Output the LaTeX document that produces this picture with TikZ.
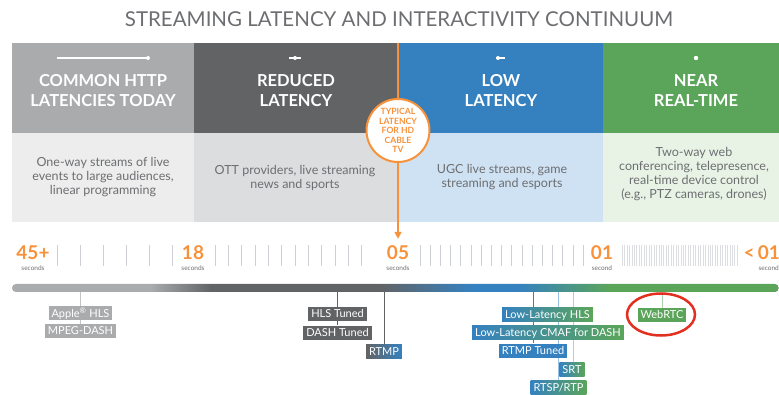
\documentclass[tikz,border=0pt]{standalone}
\usepackage{fontspec}
\setmainfont{Lato}
\usetikzlibrary{arrows.meta,shapes.geometric,backgrounds}
\definecolor{cgray}{HTML}{AAABAD}
\definecolor{cdark}{HTML}{626365}
\definecolor{cblue}{HTML}{3581C0}
\definecolor{cgreen}{HTML}{5BA55A}
\definecolor{corange}{HTML}{F7923A}
\definecolor{ctext}{HTML}{6D6E71}
\definecolor{cpalegray}{HTML}{EDEDED}
\definecolor{cpaledark}{HTML}{DCDDDE}
\definecolor{cpaleblue}{HTML}{CFE2F3}
\definecolor{cpalegreen}{HTML}{E8F3E6}
\definecolor{ctick}{HTML}{CDD0D4}
\definecolor{cred}{HTML}{E2301F}
\pgfdeclarehorizontalshading{barshade}{100bp}{color(0bp)=(cgray); color(34bp)=(cgray); color(38bp)=(cdark); color(49bp)=(cdark); color(55bp)=(cblue); color(58bp)=(cblue); color(64bp)=(cgreen); color(100bp)=(cgreen)}
\tikzset{
  head/.style={text=white, align=center, inner sep=0pt, font=\fontsize{16.5}{20}\selectfont\bfseries},
  blurb/.style={text=ctext, align=center, inner sep=0pt, font=\fontsize{12.5}{14.2}\selectfont},
  num/.style={text=corange, inner sep=0pt, font=\fontsize{19}{20}\selectfont\bfseries},
  secs/.style={text=ctext, inner sep=0pt, font=\fontsize{6.5}{7}\selectfont},
  tag/.style={text=white, inner xsep=3pt, inner ysep=0pt, minimum height=14pt, text height=7.8pt, text depth=0.4pt, font=\fontsize{11}{12}\selectfont},
  leg/.style={line width=1pt},
}
\begin{document}
\begin{tikzpicture}[x=1pt,y=-1pt]
\useasboundingbox (0,0) rectangle (779,395);
\node[text=ctext, font=\fontsize{20.5}{22}\selectfont] (title) at (399,19) {STREAMING LATENCY AND INTERACTIVITY CONTINUUM};
% columns
\fill[cgray] (12,43) rectangle (194,133);
\fill[cdark] (194,43) rectangle (398,133);
\fill[cblue] (398,43) rectangle (603,133);
\fill[cgreen] (603,43) rectangle (779,133);
\fill[cpalegray] (12,133) rectangle (194,222);
\fill[cpaledark] (194,133) rectangle (398,222);
\fill[cpaleblue] (398,133) rectangle (603,222);
\fill[cpalegreen] (603,133) rectangle (779,222);
% little range marks
\draw[white, line width=1.5pt] (57,58) -- (148,58); \fill[white] (148,58) circle (2);
\draw[white, line width=1.5pt] (289,58) -- (301,58); \fill[white] (295,58) circle (2);
\draw[white, line width=1.5pt] (496,58) -- (505,58); \fill[white] (498,58) circle (2);
\fill[white] (696,58) circle (2.2);
\node[head] (h1) at (103,91) {COMMON HTTP\\LATENCIES TODAY};
\node[head] (h2) at (296,91) {REDUCED\\LATENCY};
\node[head] (h3) at (501,91) {LOW\\LATENCY};
\node[head] (h4) at (696,91) {NEAR\\REAL-TIME};
\node[blurb] (d1) at (103,177) {One-way streams of live\\events to large audiences,\\linear programming};
\node[blurb] (d2) at (295,178) {OTT providers, live streaming\\news and sports};
\node[blurb] (d3) at (502,177) {UGC live streams, game\\streaming and esports};
\node[blurb] (d4) at (694,174) {Two-way web\\conferencing, telepresence,\\real-time device control\\(e.g., PTZ cameras, drones)};
% scale
\foreach \x in {57,80,...,172} \draw[ctick, line width=0.8pt] (\x,245) -- (\x,266);
\foreach \i in {0,...,11} \draw[ctick, line width=0.8pt] (215+13.35*\i,245) -- (215+13.35*\i,266);
\foreach \i in {0,...,16} \draw[ctick, line width=0.8pt] (420+10.2*\i,245) -- (420+10.2*\i,266);
\foreach \i in {0,...,47} \draw[ctick!70, line width=0.5pt] (622+2.45*\i,245) -- (622+2.45*\i,266);
\node[num] (n45) at (33,253) {45+};
\node[num] (n18) at (193,253) {18};
\node[num] (n05) at (398,253) {05};
\node[num] (n01) at (602,253) {01};
\node[num, anchor=east] (nlt) at (780,253) {<\,01};
\node[secs] (s45) at (33,268) {seconds};
\node[secs] (s18) at (193,268) {seconds};
\node[secs] (s05) at (398,268) {seconds};
\node[secs] (s01) at (602,268) {second};
\node[secs, anchor=east] (slt) at (779,268) {second};
% typical latency marker
\coordinate (ltop) at (398,43);
\node[circle, draw=corange, line width=2pt, fill=white, minimum size=63pt, inner sep=0pt, align=center, text=corange, font=\fontsize{8.6}{9.5}\selectfont\bfseries] (typical) at (398,130.5) {TYPICAL\\LATENCY\\FOR HD\\CABLE\\TV};
\draw[corange, line width=1.5pt] (ltop) -- (typical);
\draw[corange, line width=1.5pt, -{Triangle[width=7pt,length=7pt]}, shorten >=7pt] (typical) -- (n05);
% bar
\shade[shading=barshade, rounded corners=4pt] (12,284) rectangle (779,292);
\coordinate (b1) at (80.5,292);
\coordinate (b2) at (337.5,292);
\coordinate (b3) at (384,292);
\coordinate (b4) at (533,292);
\coordinate (b5) at (558.5,292);
\coordinate (b6) at (573,292);
\coordinate (b7) at (662,292);
% protocols
\node[tag, fill=cgray] (apple) at (80.5,313.5) {Apple\textsuperscript{®} HLS};
\node[tag, fill=cgray] (mpeg) at (80.5,331) {MPEG-DASH};
\node[tag, fill=cdark] (hlst) at (337.5,314) {HLS Tuned};
\node[tag, fill=cdark] (dasht) at (337.5,332.5) {DASH Tuned};
\node[tag, left color=cdark, right color=cblue] (rtmp) at (384,351.5) {RTMP};
\node[tag, left color=cblue, right color=cgreen] (llhls) at (547.5,315) {Low-Latency HLS};
\node[tag, left color=cblue, right color=cgreen] (cmaf) at (548,332.5) {Low-Latency CMAF for DASH};
\node[tag, fill=cblue] (rtmpt) at (533,350.5) {RTMP Tuned};
\node[tag, left color=cblue, right color=cgreen] (srt) at (572,369.5) {SRT};
\node[tag, left color=cblue, right color=cgreen] (rtsp) at (558.5,387.5) {RTSP/RTP};
\node[tag, fill=cgreen] (webrtc) at (662,315) {WebRTC};
\node[ellipse, draw=cred, line width=2.5pt, minimum width=68pt, minimum height=42pt] (ring) at (661,314.5) {};
\begin{scope}[on background layer]
\draw[leg, cgray!70] (b1) -- (mpeg);
\draw[leg, cdark] (b2) -- (dasht);
\draw[leg, cdark] (b3) -- (rtmp);
\draw[leg, cblue] (b4) -- (rtmpt);
\draw[leg, cblue!50] (b5) -- (rtsp.north -| b5);
\draw[leg, cblue!40] (b6) -- (srt.north -| b6);
\draw[leg, cgreen!50] (b7) -- (webrtc);
\end{scope}
\end{tikzpicture}
\end{document}
